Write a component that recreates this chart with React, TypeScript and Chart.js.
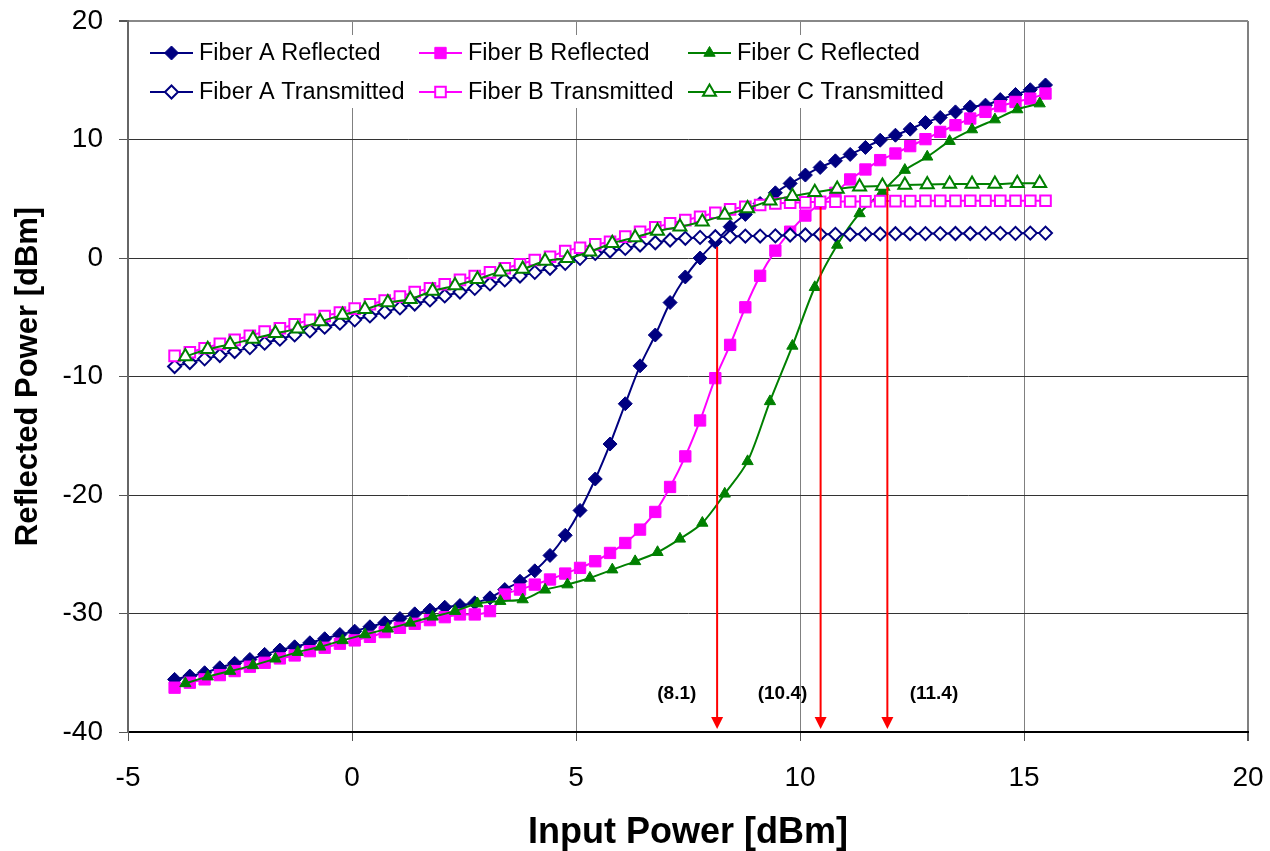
import React, { useEffect, useRef } from "react";
import { Chart, registerables } from "chart.js";

Chart.register(...registerables);

// ---------------- data ----------------
const xAB = [
  -3.96, -3.62, -3.29, -2.95, -2.62, -2.28, -1.95, -1.61, -1.28, -0.94,
  -0.61, -0.27, 0.06, 0.40, 0.73, 1.07, 1.40, 1.74, 2.07, 2.41,
  2.74, 3.08, 3.41, 3.75, 4.08, 4.42, 4.76, 5.09, 5.43, 5.76,
  6.10, 6.43, 6.77, 7.10, 7.44, 7.77, 8.11, 8.44, 8.78, 9.11,
  9.45, 9.78, 10.12, 10.45, 10.79, 11.12, 11.46, 11.79, 12.13, 12.46,
  12.80, 13.13, 13.47, 13.80, 14.14, 14.47, 14.81, 15.14, 15.48,
];

const xC = [
  -3.72, -3.22, -2.72, -2.21, -1.71, -1.21, -0.71, -0.21, 0.29, 0.80,
  1.30, 1.80, 2.30, 2.80, 3.31, 3.81, 4.31, 4.81, 5.31, 5.81,
  6.32, 6.82, 7.32, 7.82, 8.32, 8.83, 9.33, 9.83, 10.33, 10.83,
  11.33, 11.84, 12.34, 12.84, 13.34, 13.84, 14.35, 14.85, 15.35,
];

const fiberAReflected = [
  -35.56, -35.28, -35.0, -34.58, -34.2, -33.88, -33.45, -33.09, -32.81, -32.47,
  -32.13, -31.77, -31.49, -31.12, -30.79, -30.42, -30.03, -29.72, -29.47, -29.33,
  -29.1, -28.68, -27.98, -27.28, -26.4, -25.1, -23.4, -21.3, -18.65, -15.7,
  -12.3, -9.1, -6.5, -3.76, -1.6, 0.0, 1.37, 2.64, 3.68, 4.6,
  5.5, 6.29, 7.0, 7.64, 8.2, 8.74, 9.33, 9.94, 10.36, 10.87,
  11.43, 11.86, 12.33, 12.75, 12.9, 13.37, 13.8, 14.2, 14.6,
];

const fiberATransmitted = [
  -9.16, -8.82, -8.51, -8.23, -7.89, -7.56, -7.19, -6.85, -6.49, -6.15,
  -5.84, -5.5, -5.22, -4.89, -4.55, -4.21, -3.88, -3.54, -3.2, -2.87,
  -2.56, -2.19, -1.85, -1.52, -1.21, -0.87, -0.45, -0.03, 0.39, 0.59,
  0.81, 1.1, 1.29, 1.52, 1.66, 1.74, 1.8, 1.8, 1.85, 1.85,
  1.87, 1.94, 1.94, 2.0, 2.0, 2.0, 2.02, 2.03, 2.05, 2.05,
  2.06, 2.06, 2.07, 2.07, 2.08, 2.08, 2.08, 2.1, 2.1,
];

const fiberBReflected = [
  -36.26, -35.84, -35.56, -35.2, -34.86, -34.49, -34.16, -33.79, -33.54, -33.18,
  -32.89, -32.55, -32.27, -31.97, -31.57, -31.21, -30.87, -30.56, -30.31, -30.08,
  -30.08, -29.8, -28.4, -27.98, -27.56, -27.13, -26.63, -26.15, -25.59, -24.89,
  -24.05, -22.92, -21.43, -19.32, -16.74, -13.71, -10.14, -7.33, -4.16, -1.5,
  0.62, 2.22, 3.58, 4.6, 5.5, 6.63, 7.47, 8.26, 8.82, 9.44,
  10.03, 10.64, 11.21, 11.77, 12.33, 12.81, 13.17, 13.45, 13.88,
];

const fiberBTransmitted = [
  -8.26, -7.95, -7.61, -7.25, -6.91, -6.57, -6.21, -5.93, -5.59, -5.22,
  -4.89, -4.61, -4.27, -3.9, -3.6, -3.26, -2.87, -2.56, -2.22, -1.85,
  -1.52, -1.21, -0.87, -0.53, -0.17, 0.11, 0.59, 0.87, 1.15, 1.37,
  1.8, 2.22, 2.58, 2.92, 3.2, 3.48, 3.82, 4.1, 4.32, 4.47,
  4.6, 4.66, 4.69, 4.75, 4.75, 4.77, 4.78, 4.8, 4.8, 4.8,
  4.82, 4.82, 4.82, 4.83, 4.83, 4.83, 4.83, 4.83, 4.83,
];

const fiberCReflected = [
  -35.9, -35.33, -34.86, -34.38, -33.82, -33.26, -32.81, -32.27, -31.77, -31.29,
  -30.79, -30.28, -29.8, -29.16, -28.96, -28.82, -28.0, -27.56, -27.0, -26.3,
  -25.6, -24.83, -23.7, -22.36, -19.9, -17.16, -12.1, -7.42, -2.47, 1.1,
  3.76, 5.6, 7.42, 8.54, 9.86, 10.84, 11.68, 12.53, 13.03,
];

const fiberCTransmitted = [
  -8.31, -7.7, -7.28, -6.83, -6.35, -5.98, -5.36, -4.8, -4.32, -3.76,
  -3.48, -2.78, -2.33, -1.8, -1.15, -0.93, -0.25, -0.03, 0.53, 1.24,
  1.74, 2.28, 2.64, 3.06, 3.62, 4.18, 4.83, 5.22, 5.55, 5.83,
  6.01, 6.07, 6.15, 6.21, 6.24, 6.24, 6.24, 6.3, 6.3,
];

const seriesLabels = [
  "Fiber A Reflected",
  "Fiber B Reflected",
  "Fiber C Reflected",
  "Fiber A Transmitted",
  "Fiber B Transmitted",
  "Fiber C Transmitted",
];

// threshold arrows (x value, top y value) and their labels
const arrowX = [8.15, 10.46, 11.95];
const arrowTop = [0.95, 4.3, 6.0];
const arrowBottom = -39.75;
const arrowLabels = ["(8.1)", "(10.4)", "(11.4)"];
const arrowLabelX = [7.25, 9.61, 12.99];
const arrowLabelY = -36.74;

const xTickStep = 5;
const yTickStep = 10;

// ---------------- styles ----------------
const FONT = "'Liberation Sans', Arial, Helvetica, sans-serif";
const NAVY = "#000080";
const MAGENTA = "#FF00FF";
const GREEN = "#008000";

type Marker = "diamond" | "square" | "triangle";

function pathMarker(ctx: CanvasRenderingContext2D, m: Marker, x: number, y: number, r: number) {
  ctx.beginPath();
  if (m === "diamond") {
    ctx.moveTo(x - r, y);
    ctx.lineTo(x, y - r);
    ctx.lineTo(x + r, y);
    ctx.lineTo(x, y + r);
  } else if (m === "square") {
    const s = Math.SQRT1_2 * r;
    ctx.rect(x - s, y - s, 2 * s, 2 * s);
  } else {
    const a = (2 * Math.PI) / 3;
    ctx.moveTo(x, y - r);
    ctx.lineTo(x + Math.sin(a) * r, y - Math.cos(a) * r);
    ctx.lineTo(x + Math.sin(2 * a) * r, y - Math.cos(2 * a) * r);
  }
  ctx.closePath();
}

const legendItems = [
  { color: NAVY, marker: "diamond" as Marker, filled: true, r: 7 },
  { color: MAGENTA, marker: "square" as Marker, filled: true, r: 8 },
  { color: GREEN, marker: "triangle" as Marker, filled: true, r: 6.5 },
  { color: NAVY, marker: "diamond" as Marker, filled: false, r: 6.5 },
  { color: MAGENTA, marker: "square" as Marker, filled: false, r: 7.5 },
  { color: GREEN, marker: "triangle" as Marker, filled: false, r: 7.5 },
];

const legendPlugin = {
  id: "gridLegend",
  beforeDatasetsDraw(chart: any) {
    const ctx: CanvasRenderingContext2D = chart.ctx;
    ctx.save();
    ctx.fillStyle = "#ffffff";
    ctx.fillRect(140, 35, 822, 73);
    const colX = [150, 419, 688];
    const rowY = [53, 92];
    ctx.font = `23.5px ${FONT}`;
    ctx.textBaseline = "middle";
    ctx.textAlign = "left";
    seriesLabels.forEach((label, i) => {
      const it = legendItems[i];
      const x0 = colX[i % 3];
      const y0 = rowY[Math.floor(i / 3)];
      ctx.strokeStyle = it.color;
      ctx.lineWidth = 2;
      ctx.beginPath();
      ctx.moveTo(x0, y0);
      ctx.lineTo(x0 + 43, y0);
      ctx.stroke();
      pathMarker(ctx, it.marker, x0 + 21.5, y0, it.r);
      ctx.fillStyle = it.filled ? it.color : "#ffffff";
      ctx.fill();
      ctx.lineWidth = it.filled ? 1 : 2;
      ctx.strokeStyle = it.color;
      ctx.stroke();
      ctx.fillStyle = "#000000";
      ctx.fillText(label, x0 + 49, y0 + 1);
    });
    ctx.restore();
  },
};

const arrowPlugin = {
  id: "thresholdArrows",
  afterDatasetsDraw(chart: any) {
    const ctx: CanvasRenderingContext2D = chart.ctx;
    const xs = chart.scales.x;
    const ys = chart.scales.y;
    ctx.save();
    ctx.strokeStyle = "#FF0000";
    ctx.fillStyle = "#FF0000";
    ctx.lineWidth = 2;
    arrowX.forEach((ax, i) => {
      const px = xs.getPixelForValue(ax);
      const top = ys.getPixelForValue(arrowTop[i]);
      const bot = ys.getPixelForValue(arrowBottom);
      ctx.beginPath();
      ctx.moveTo(px, top);
      ctx.lineTo(px, bot - 10);
      ctx.stroke();
      ctx.beginPath();
      ctx.moveTo(px - 6, bot - 12);
      ctx.lineTo(px + 6, bot - 12);
      ctx.lineTo(px, bot);
      ctx.closePath();
      ctx.fill();
    });
    ctx.fillStyle = "#000000";
    ctx.font = `bold 19px ${FONT}`;
    ctx.textAlign = "center";
    ctx.textBaseline = "middle";
    arrowLabels.forEach((t, i) => {
      ctx.fillText(t, xs.getPixelForValue(arrowLabelX[i]), ys.getPixelForValue(arrowLabelY));
    });
    ctx.restore();
  },
};

function makeSet(label: string, xs: number[], ys: number[], color: string, style: string, filled: boolean, r: number, order: number) {
  return {
    label,
    data: xs.map((x, i) => ({ x, y: ys[i] })),
    borderColor: color,
    backgroundColor: color,
    borderWidth: 2,
    pointStyle: style,
    pointRadius: r,
    pointBackgroundColor: filled ? color : "#ffffff",
    pointBorderColor: color,
    pointBorderWidth: filled ? 1 : 2,
    tension: 0.3,
    showLine: true,
    order,
  };
}

export default function App() {
  const ref = useRef<HTMLCanvasElement | null>(null);

  useEffect(() => {
    if (!ref.current) return;
    const chart = new Chart(ref.current, {
      type: "scatter",
      data: {
        datasets: [
          makeSet(seriesLabels[0], xAB, fiberAReflected, NAVY, "rectRot", true, 7, 6),
          makeSet(seriesLabels[1], xAB, fiberBReflected, MAGENTA, "rect", true, 8, 5),
          makeSet(seriesLabels[2], xC, fiberCReflected, GREEN, "triangle", true, 6.5, 4),
          makeSet(seriesLabels[3], xAB, fiberATransmitted, NAVY, "rectRot", false, 6.5, 3),
          makeSet(seriesLabels[4], xAB, fiberBTransmitted, MAGENTA, "rect", false, 7.5, 2),
          makeSet(seriesLabels[5], xC, fiberCTransmitted, GREEN, "triangle", false, 7.5, 1),
        ] as any,
      },
      options: {
        responsive: false,
        animation: false,
        layout: { padding: { top: 21, right: 22, left: 0, bottom: 0 } },
        plugins: {
          legend: { display: false },
          tooltip: { enabled: false },
        },
        scales: {
          x: {
            type: "linear",
            min: -5,
            max: 20,
            ticks: {
              stepSize: xTickStep,
              color: "#000",
              padding: 20,
              font: { family: FONT, size: 28 },
            },
            grid: {
              color: "#808080",
              lineWidth: (c: any) => (c.tick && c.tick.value === 20 ? 2 : 1),
              tickLength: 9,
              tickColor: "#555",
            },
            border: { color: "#000", width: 2 },
            title: {
              display: true,
              text: "Input Power [dBm]",
              color: "#000",
              font: { family: FONT, size: 36, weight: "bold", lineHeight: 1 },
              padding: { top: 0, bottom: 0 },
            },
            afterFit: (s: any) => {
              s.height = 119;
              s.paddingLeft = 0;
              s.paddingRight = 0;
            },
          },
          y: {
            type: "linear",
            min: -40,
            max: 20,
            ticks: {
              stepSize: yTickStep,
              color: "#000",
              padding: 16,
              font: { family: FONT, size: 28 },
            },
            grid: {
              color: (c: any) => (c.tick && c.tick.value === 20 ? "#888888" : "#333333"),
              lineWidth: (c: any) => (c.tick && c.tick.value === 20 ? 2 : 1),
              tickLength: 9,
              tickColor: "#555",
            },
            border: { color: "#666", width: 2 },
            title: {
              display: true,
              text: "Reflected Power [dBm]",
              color: "#000",
              font: { family: FONT, size: 31, weight: "bold" },
              padding: { top: 10, bottom: 0 },
            },
            afterFit: (s: any) => {
              s.width = 128;
              s.paddingTop = 0;
              s.paddingBottom = 0;
            },
          },
        },
      } as any,
      plugins: [legendPlugin, arrowPlugin],
    });
    return () => chart.destroy();
  }, []);

  return (
    <div style={{ position: "absolute", left: 0, top: 0, width: 1270, height: 851, background: "#fff" }}>
      <canvas ref={ref} width={1270} height={851} style={{ display: "block" }} />
    </div>
  );
}
